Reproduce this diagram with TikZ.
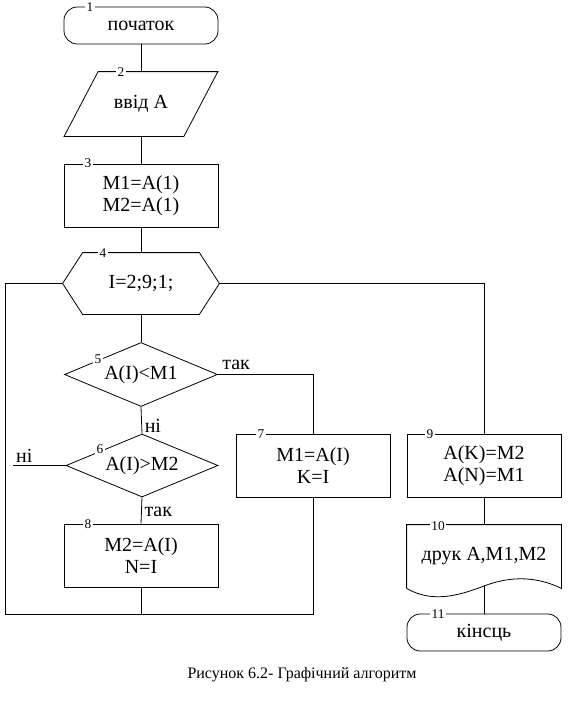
\documentclass[tikz,border=0pt]{standalone}
\usepackage{fontspec}
\setmainfont{Liberation Serif}
\usetikzlibrary{shapes.geometric,calc}

\begin{document}
\begin{tikzpicture}[
        x = 0.75pt,
        y = -0.75pt,
        line width = 0.6pt,
        txt/.style = {font=\fontsize{15}{16.5}\selectfont},
        frame/.style = {txt, align=center, inner sep=0pt,
            minimum width=115.5pt, minimum height=47.25pt},
        block/.style = {frame, draw},
        term/.style = {block, rounded corners=10pt, minimum height=27.75pt},
        cond/.style = {txt, draw, diamond, aspect=2.35, inner sep=0pt,
            minimum width=114.75pt, minimum height=48pt},
        num/.style = {fill=white, inner sep=1pt, font=\fontsize{10}{11}\selectfont}
        ]
        \useasboundingbox (0, 0) rectangle (579, 721);

        % main column
        \node[term] (start) at (141, 25.5) {початок};
        \node[frame, minimum width=114.75pt, minimum height=48pt] (input) at (141, 104) {ввід A};
        \draw ($(input.north west)+(34, 0)$) -- (input.north east)
            -- ($(input.south east)+(-34, 0)$) -- (input.south west) -- cycle;
        \node[block] (init) at (141, 195.5) {M1=A(1)\\M2=A(1)};
        \node[frame, minimum width=117pt, minimum height=45.75pt] (loop) at (141, 283.5) {I=2;9;1;};
        \draw (loop.west) -- ($(loop.north west)+(20, 0)$) -- ($(loop.north east)+(-20, 0)$)
            -- (loop.east) -- ($(loop.south east)+(-20, 0)$) -- ($(loop.south west)+(20, 0)$) -- cycle;
        \node[cond] (cmpmin) at (141, 374.5) {A(I)<M1};
        \node[cond, minimum width=114pt, minimum height=47.25pt] (cmpmax) at (142, 465.5) {A(I)>M2};
        \node[block] (setmin) at (313, 465.5) {M1=A(I)\\K=I};
        \node[block] (setmax) at (141, 555.5) {M2=A(I)\\N=I};

        % right column
        \node[block] (swap) at (484, 465.5) {A(K)=M2\\A(N)=M1};
        \node[frame] (print) at (484, 556.5) {друк A,M1,M2};
        \coordinate (wave) at (484, 586);
        \draw (print.south west) -- (print.north west) -- (print.north east) -- (print.south east)
            .. controls (532, 574) and (505, 578) .. (wave)
            .. controls (458, 596) and (432, 603) .. (print.south west);
        \node[term] (finish) at (484, 632.5) {кінсць};

        % block numbers
        \foreach \n/\x/\y in {1/90/7, 2/121/72, 3/88/163, 4/103/253, 5/98/359, 6/100/449,
                7/261/434, 8/88/524, 9/430/434, 10/438/526, 11/438/614}
            \node[num] (n\n) at (\x, \y) {\n};

        % connectors
        \coordinate (bottom) at (5, 614);
        \coordinate (nofree) at (13, 465.5);
        \draw (start.south) -- (input.north);
        \draw (input.south) -- (init.north);
        \draw (init.south) -- (loop.north);
        \draw (loop.south) -- (cmpmin.north);
        \draw (cmpmin.south) -- (cmpmax.north) node[txt, pos=0.7, right, inner sep=2pt] {ні};
        \draw (cmpmin.east) -| (setmin.north) node[txt, pos=0, above right, inner sep=3pt] {так};
        \draw (cmpmax.south) -- (setmax.north) node[txt, pos=0.55, right, inner sep=2pt] {так};
        \draw (cmpmax.west) -- (nofree) node[txt, pos=1, above right, inner sep=2pt] {ні};
        \draw (setmin.south) |- (bottom) |- (loop.west);
        \draw (setmax.south) -- (setmax.south |- bottom);
        \draw (loop.east) -| (swap.north);
        \draw (swap.south) -- (print.north);
        \draw (wave) -- (finish.north);

        \node[font=\fontsize{12}{14}\selectfont] (caption) at (302, 675) {Рисунок 6.2- Графічний алгоритм};
    \end{tikzpicture}
\end{document}
